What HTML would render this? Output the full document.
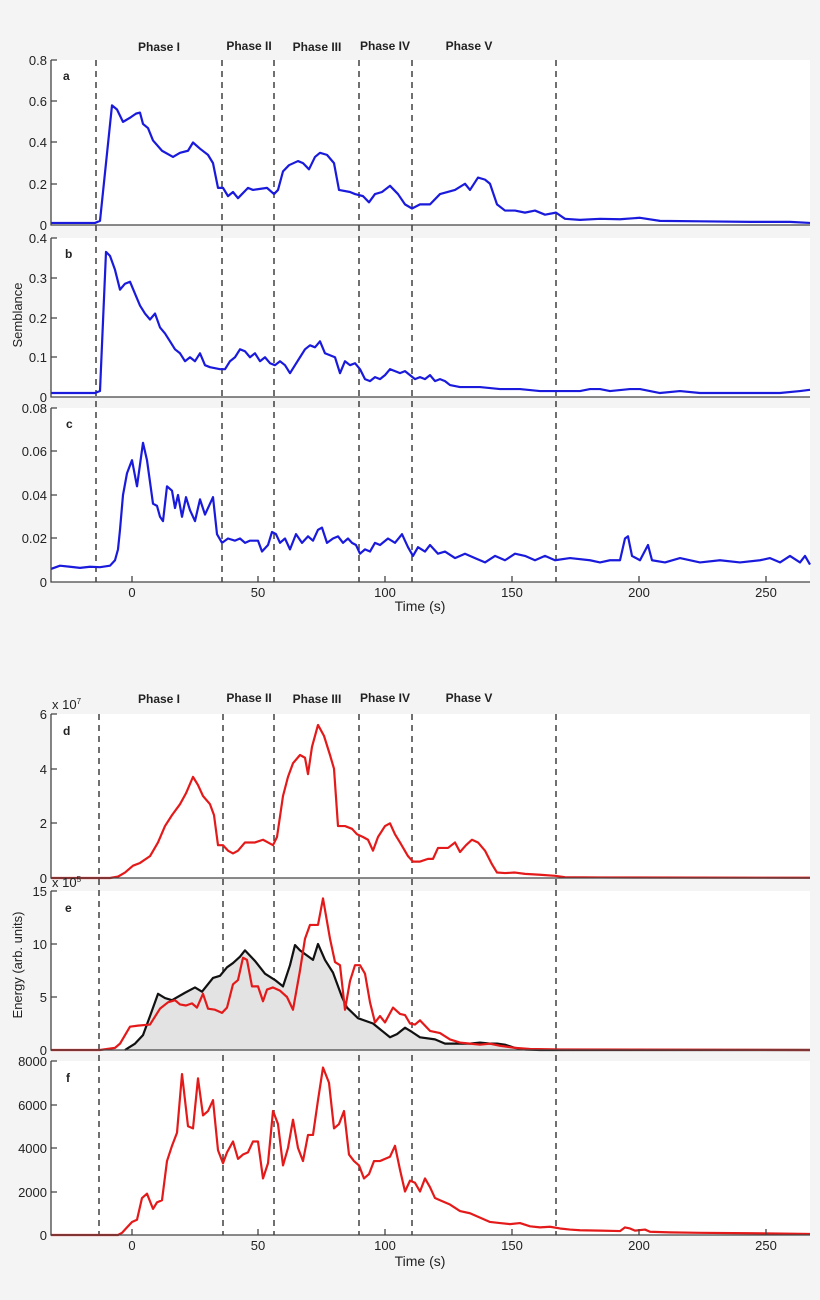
<!DOCTYPE html>
<html><head><meta charset="utf-8"><style>
body{margin:0;background:#f4f4f4;}
svg{display:block;font-family:"Liberation Sans",sans-serif;}
.ln{fill:none;vector-effect:non-scaling-stroke;stroke-width:2.2;stroke-linejoin:round}
.b{stroke:#1a1adc}.r{stroke:#e41a1a}.k{stroke:#111}
.ax{stroke:#444;stroke-width:1.3;fill:none}
.ds{stroke:#333;stroke-width:1.4;stroke-dasharray:6,5}
.t{font-size:13px;fill:#222}
.ph{font-size:12px;font-weight:bold;fill:#222}
.pl{font-size:12px;font-weight:bold;fill:#222}
</style></head><body>
<svg width="820" height="1300" viewBox="0 0 820 1300">
<rect width="820" height="1300" fill="#f4f4f4"/>
<rect x="51" y="60" width="759" height="165" fill="#fff"/>
<rect x="51" y="238" width="759" height="159" fill="#fff"/>
<rect x="51" y="408" width="759" height="174" fill="#fff"/>
<rect x="51" y="714" width="759" height="164" fill="#fff"/>
<rect x="51" y="891" width="759" height="159" fill="#fff"/>
<rect x="51" y="1061" width="759" height="174" fill="#fff"/>

<g class="ds">
<line x1="96" y1="60" x2="96" y2="582"/><line x1="222" y1="60" x2="222" y2="582"/><line x1="274" y1="60" x2="274" y2="582"/><line x1="359" y1="60" x2="359" y2="582"/><line x1="412" y1="60" x2="412" y2="582"/><line x1="556" y1="60" x2="556" y2="582"/>
<line x1="99" y1="714" x2="99" y2="1235"/><line x1="223" y1="714" x2="223" y2="1235"/><line x1="274" y1="714" x2="274" y2="1235"/><line x1="359" y1="714" x2="359" y2="1235"/><line x1="412" y1="714" x2="412" y2="1235"/><line x1="556" y1="714" x2="556" y2="1235"/>
</g>

<g transform="translate(0,225) scale(1,-206.25)"><polyline class="ln b" points="51,0.01 95,0.01 100,0.02 112,0.58 117,0.56 123,0.5 130,0.52 136,0.54 140,0.545 143,0.49 148,0.47 153,0.41 162,0.36 173,0.33 180,0.35 188,0.36 193,0.4 200,0.37 208,0.34 213,0.3 218,0.18 223,0.18 228,0.14 233,0.16 238,0.13 248,0.18 253,0.17 267,0.18 274,0.15 278,0.17 283,0.26 289,0.29 298,0.31 303,0.3 309,0.27 315,0.33 320,0.35 327,0.34 334,0.3 339,0.17 350,0.16 355,0.15 363,0.14 369,0.11 375,0.15 382,0.16 390,0.19 398,0.15 405,0.1 412,0.08 420,0.1 430,0.1 440,0.15 455,0.17 465,0.2 470,0.17 478,0.23 485,0.22 490,0.2 497,0.1 505,0.07 515,0.07 525,0.06 535,0.07 545,0.05 556,0.06 565,0.03 580,0.025 600,0.03 620,0.028 640,0.035 660,0.02 700,0.018 750,0.015 790,0.015 810,0.01"/></g>
<g transform="translate(0,397) scale(1,-397.5)"><polyline class="ln b" points="51,0.01 95,0.01 100,0.015 106,0.365 110,0.355 115,0.32 120,0.27 125,0.285 130,0.29 135,0.26 140,0.23 145,0.21 150,0.195 155,0.21 160,0.175 165,0.16 170,0.14 175,0.12 180,0.11 185,0.09 190,0.1 195,0.09 200,0.11 205,0.08 210,0.075 220,0.07 225,0.07 230,0.09 235,0.1 240,0.12 245,0.115 250,0.1 255,0.11 260,0.09 265,0.1 270,0.085 275,0.08 280,0.09 285,0.08 290,0.06 295,0.08 300,0.1 305,0.12 310,0.13 315,0.125 320,0.14 325,0.11 330,0.105 335,0.1 340,0.06 345,0.09 350,0.08 355,0.085 360,0.07 365,0.045 370,0.04 375,0.05 380,0.045 385,0.055 390,0.07 395,0.065 400,0.06 405,0.065 410,0.055 415,0.045 420,0.05 425,0.045 430,0.055 435,0.04 440,0.045 445,0.04 450,0.03 460,0.025 480,0.025 500,0.02 520,0.02 540,0.015 560,0.015 580,0.015 590,0.02 600,0.02 610,0.015 630,0.02 640,0.02 660,0.01 680,0.015 700,0.01 740,0.01 780,0.01 800,0.015 810,0.018"/></g>
<g transform="translate(0,582) scale(1,-2175)"><polyline class="ln b" points="51,0.006 60,0.0075 70,0.007 80,0.0065 90,0.007 100,0.0068 110,0.0075 115,0.01 118,0.015 120,0.024 123,0.04 127,0.05 132,0.056 137,0.044 143,0.064 147,0.056 153,0.036 157,0.035 160,0.03 163,0.028 167,0.044 172,0.042 175,0.034 178,0.04 182,0.03 186,0.039 190,0.033 195,0.028 200,0.038 205,0.031 210,0.036 213,0.039 217,0.022 222,0.018 228,0.02 235,0.019 240,0.02 245,0.018 250,0.019 258,0.019 262,0.014 268,0.017 272,0.023 276,0.022 280,0.018 285,0.02 290,0.015 296,0.022 302,0.018 308,0.021 313,0.019 318,0.024 322,0.025 327,0.018 333,0.02 338,0.021 343,0.018 348,0.02 352,0.018 356,0.017 360,0.013 365,0.015 370,0.014 375,0.018 380,0.017 388,0.02 395,0.018 402,0.022 408,0.016 413,0.012 418,0.016 425,0.014 430,0.017 438,0.013 445,0.014 455,0.011 465,0.013 475,0.011 485,0.009 495,0.012 505,0.01 515,0.013 525,0.012 535,0.01 545,0.012 555,0.01 570,0.011 590,0.01 600,0.009 610,0.01 620,0.01 625,0.02 628,0.021 632,0.012 640,0.01 648,0.017 652,0.01 665,0.009 680,0.011 700,0.009 720,0.01 740,0.009 760,0.01 770,0.011 780,0.009 790,0.012 800,0.009 805,0.012 810,0.008"/></g>
<g transform="translate(0,878) scale(1,-27.33)"><polyline class="ln r" points="51,0 110,0 118,0.05 125,0.2 133,0.45 140,0.55 150,0.8 158,1.3 165,1.9 172,2.3 180,2.7 186,3.1 193,3.7 198,3.4 203,3 210,2.7 214,2.3 218,1.2 223,1.2 228,1.0 233,0.9 238,1.0 245,1.3 255,1.3 263,1.4 268,1.3 273,1.2 277,1.5 283,3 288,3.7 293,4.2 300,4.5 305,4.4 308,3.8 312,4.8 318,5.6 324,5.2 330,4.5 334,4.0 338,1.9 345,1.9 352,1.8 357,1.6 363,1.5 368,1.4 373,1.0 378,1.5 385,1.9 390,2.0 395,1.6 400,1.3 408,0.8 413,0.6 420,0.6 428,0.7 433,0.7 438,1.1 448,1.1 455,1.3 460,0.95 466,1.2 472,1.4 478,1.3 485,1.0 492,0.5 497,0.2 505,0.18 515,0.2 525,0.15 540,0.12 555,0.08 565,0.03 600,0.02 810,0.01"/></g>
<g transform="translate(0,1050) scale(1,-10.6)">
<polygon fill="#e3e3e3" points="125,0 135,0.6 143,1.4 150,3.2 158,5.3 165,4.9 172,4.7 185,5.4 195,5.9 202,5.5 213,6.8 220,7.0 227,7.8 233,8.2 240,8.8 245,9.4 255,8.4 265,7.2 275,6.6 283,6.0 290,8.0 295,9.9 300,9.4 313,8.5 318,10.0 325,8.5 333,7.3 342,5.0 347,4.0 358,3.0 373,2.5 390,1.2 397,1.5 405,2.1 412,1.7 420,1.2 435,1.0 445,0.6 460,0.6 470,0.6 480,0.7 490,0.6 497,0.6 505,0.5 515,0.2 525,0.05 540,0"/>
<polyline class="ln k" points="125,0 135,0.6 143,1.4 150,3.2 158,5.3 165,4.9 172,4.7 185,5.4 195,5.9 202,5.5 213,6.8 220,7.0 227,7.8 233,8.2 240,8.8 245,9.4 255,8.4 265,7.2 275,6.6 283,6.0 290,8.0 295,9.9 300,9.4 313,8.5 318,10.0 325,8.5 333,7.3 342,5.0 347,4.0 358,3.0 373,2.5 390,1.2 397,1.5 405,2.1 412,1.7 420,1.2 435,1.0 445,0.6 460,0.6 470,0.6 480,0.7 490,0.6 497,0.6 505,0.5 515,0.2 525,0.05 540,0 810,0"/>
<polyline class="ln r" points="51,0 100,0 115,0.2 120,0.6 130,2.2 138,2.3 150,2.4 160,3.9 168,4.5 175,4.7 180,4.3 186,4.2 192,4.4 197,4.0 203,5.3 208,3.9 215,3.8 222,3.5 227,4.0 233,6.2 238,6.6 243,8.7 247,8.5 252,6.0 258,6.0 263,4.6 267,5.7 273,5.9 280,5.6 287,5.0 293,3.8 300,7.5 305,10.5 310,11.8 318,11.8 323,14.3 330,10.5 335,8.3 340,8.0 345,3.8 350,6.5 355,8.0 360,8.0 365,7.2 370,4.5 375,2.6 380,3.2 385,2.6 393,4.0 400,3.4 405,3.3 410,2.5 415,2.4 420,2.8 430,1.8 440,1.6 450,1.0 460,0.7 470,0.6 480,0.5 490,0.6 500,0.4 515,0.2 530,0.1 560,0.05 810,0"/>
</g>
<g transform="translate(0,1235) scale(1,-21.75)"><polyline class="ln r" points="51,0 118,0 122,0.1 132,0.6 137,0.7 142,1.7 147,1.9 153,1.2 157,1.5 162,1.6 167,3.4 172,4.1 177,4.7 182,7.4 188,5.0 193,4.9 198,7.2 203,5.5 208,5.7 213,6.2 218,3.9 223,3.3 227,3.8 233,4.3 238,3.5 243,3.7 248,3.8 253,4.3 258,4.3 263,2.6 268,3.3 273,5.7 278,5.1 283,3.2 288,4.0 293,5.3 298,4.0 303,3.4 308,4.6 313,4.6 318,6.2 323,7.7 329,7.0 334,4.9 339,5.1 344,5.7 349,3.7 354,3.4 359,3.2 364,2.6 369,2.8 374,3.4 380,3.4 385,3.5 390,3.6 395,4.1 400,3.0 405,2.0 410,2.5 415,2.4 420,2.0 425,2.6 430,2.2 435,1.7 440,1.6 450,1.4 460,1.1 470,1.0 480,0.8 490,0.6 500,0.55 510,0.5 520,0.55 530,0.4 540,0.35 550,0.38 560,0.3 570,0.25 580,0.22 600,0.2 620,0.18 625,0.35 630,0.3 635,0.2 645,0.25 650,0.15 670,0.12 700,0.1 750,0.08 810,0.05"/></g>

<g class="ax">
<path d="M51,60V225H810M51,238V397H810M51,408V582H810M51,714V878H810M51,891V1050H810M51,1061V1235H810"/>
<path d="M51,60h6M51,101h6M51,142h6M51,184h6M51,238h6M51,278h6M51,318h6M51,357h6M51,408h6M51,451h6M51,495h6M51,538h6M51,714h6M51,769h6M51,823h6M51,891h6M51,944h6M51,997h6M51,1061h6M51,1105h6M51,1148h6M51,1192h6"/>
<path d="M132,582v-6M258,582v-6M385,582v-6M512,582v-6M639,582v-6M766,582v-6M132,1235v-6M258,1235v-6M385,1235v-6M512,1235v-6M639,1235v-6M766,1235v-6"/>
</g>

<g class="t" text-anchor="end">
<text x="47" y="65">0.8</text><text x="47" y="106">0.6</text><text x="47" y="147">0.4</text><text x="47" y="189">0.2</text><text x="47" y="230">0</text>
<text x="47" y="243">0.4</text><text x="47" y="283">0.3</text><text x="47" y="323">0.2</text><text x="47" y="362">0.1</text><text x="47" y="402">0</text>
<text x="47" y="413">0.08</text><text x="47" y="456">0.06</text><text x="47" y="500">0.04</text><text x="47" y="543">0.02</text><text x="47" y="587">0</text>
<text x="47" y="719">6</text><text x="47" y="774">4</text><text x="47" y="828">2</text><text x="47" y="883">0</text>
<text x="47" y="896">15</text><text x="47" y="949">10</text><text x="47" y="1002">5</text><text x="47" y="1055">0</text>
<text x="47" y="1066">8000</text><text x="47" y="1110">6000</text><text x="47" y="1153">4000</text><text x="47" y="1197">2000</text><text x="47" y="1240">0</text>
</g>
<text class="t" x="52" y="709">x 10<tspan font-size="8" dy="-5">7</tspan></text>
<text class="t" x="52" y="887">x 10<tspan font-size="8" dy="-5">5</tspan></text>
<g class="t" text-anchor="middle">
<text x="132" y="597">0</text><text x="258" y="597">50</text><text x="385" y="597">100</text><text x="512" y="597">150</text><text x="639" y="597">200</text><text x="766" y="597">250</text>
<text x="132" y="1250">0</text><text x="258" y="1250">50</text><text x="385" y="1250">100</text><text x="512" y="1250">150</text><text x="639" y="1250">200</text><text x="766" y="1250">250</text>
<text x="420" y="611" font-size="14">Time (s)</text>
<text x="420" y="1266" font-size="14">Time (s)</text>
</g>
<text class="t" font-size="14" text-anchor="middle" transform="translate(22,315) rotate(-90)">Semblance</text>
<text class="t" font-size="14" text-anchor="middle" transform="translate(22,965) rotate(-90)">Energy (arb. units)</text>

<g class="ph" text-anchor="middle">
<text x="159" y="51">Phase I</text><text x="249" y="50">Phase II</text><text x="317" y="51">Phase III</text><text x="385" y="50">Phase IV</text><text x="469" y="50">Phase V</text>
<text x="159" y="703">Phase I</text><text x="249" y="702">Phase II</text><text x="317" y="703">Phase III</text><text x="385" y="702">Phase IV</text><text x="469" y="702">Phase V</text>
</g>
<g class="pl">
<text x="63" y="80">a</text><text x="65" y="258">b</text><text x="66" y="428">c</text>
<text x="63" y="735">d</text><text x="65" y="912">e</text><text x="66" y="1082">f</text>
</g>
</svg>
</body></html>
